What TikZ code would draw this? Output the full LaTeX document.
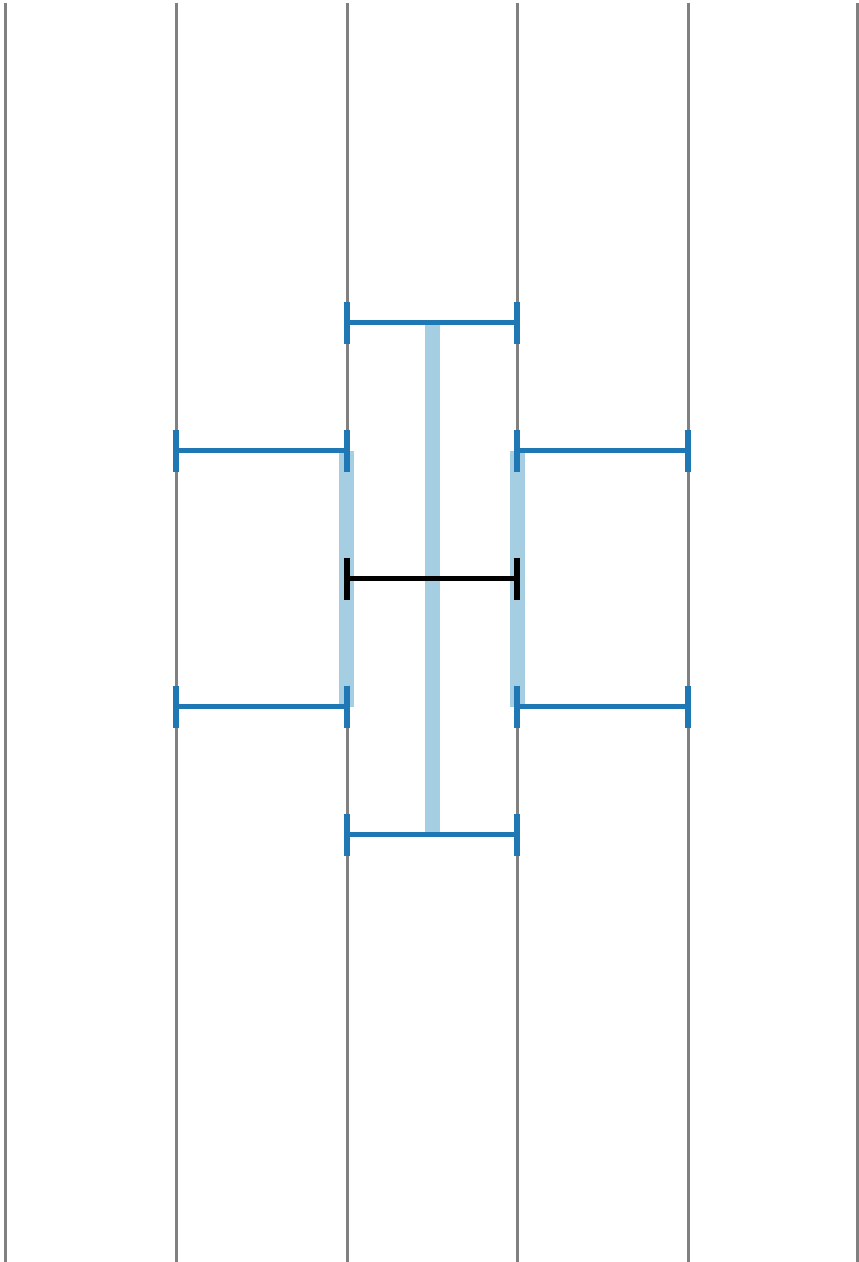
\documentclass[tikz,border=0pt]{standalone}
\definecolor{tabblue}{HTML}{1F77B4}
\definecolor{lightbar}{HTML}{A6CEE3}
\definecolor{gridgray}{HTML}{808080}
\tikzset{
  gridline/.style={draw=gridgray, line width=3bp},
  bar/.style={draw=lightbar, line width=15bp},
  span/.style={draw=tabblue, line width=5bp},
  spanblack/.style={draw=black, line width=5bp},
  tick/.style={line width=5.5bp},
}
\begin{document}
\begin{tikzpicture}[x=1bp,y=-1bp]
\useasboundingbox (0,0) rectangle (859,1262);
% vertical grid lines
\foreach \x [count=\i] in {5,176,347,517,688,857.5}
  \draw[gridline] (\x,3) -- (\x,1262);
% light bars
\draw[bar] (432,324) -- (432,834);
\draw[bar] (346.5,451) -- (346.5,707);
\draw[bar] (517.5,451) -- (517.5,707);
% blue spans
\newcommand{\spanseg}[4]{%
  \draw[#4] (#1,#3) -- (#2,#3);
  \draw[#4,tick] (#1,#3-21) -- (#1,#3+21);
  \draw[#4,tick] (#2,#3-21) -- (#2,#3+21);
}
\spanseg{347}{517}{322.5}{span}
\spanseg{176}{347}{450.5}{span}
\spanseg{517}{688}{450.5}{span}
\spanseg{347}{517}{578.5}{spanblack}
\spanseg{176}{347}{706.5}{span}
\spanseg{517}{688}{706.5}{span}
\spanseg{347}{517}{834.5}{span}
\end{tikzpicture}
\end{document}
